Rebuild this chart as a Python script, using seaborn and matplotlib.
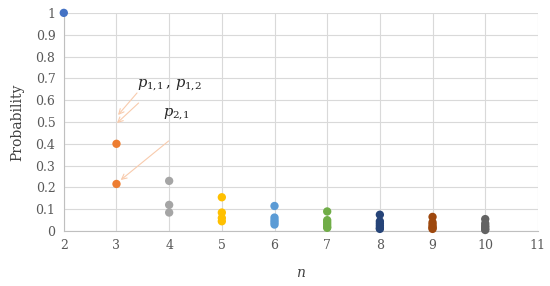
import matplotlib
matplotlib.use("Agg")
import matplotlib.pyplot as plt
import seaborn as sns
import pandas as pd

n_values = [2, 3, 4, 5, 6, 7, 8, 9, 10]
probs = {
    2: [1.0],
    3: [0.4, 0.216],
    4: [0.23, 0.12, 0.085],
    5: [0.155, 0.085, 0.06, 0.045],
    6: [0.115, 0.062, 0.05, 0.04, 0.03],
    7: [0.09, 0.05, 0.04, 0.03, 0.02, 0.015],
    8: [0.075, 0.045, 0.035, 0.025, 0.015, 0.01],
    9: [0.065, 0.04, 0.03, 0.02, 0.015, 0.01],
    10: [0.055, 0.035, 0.025, 0.018, 0.01, 0.005],
}
colors = ["#4472C4", "#ED7D31", "#A5A5A5", "#FFC000", "#5B9BD5",
          "#70AD47", "#264478", "#9E480E", "#636363"]
x_ticks = [2, 3, 4, 5, 6, 7, 8, 9, 10, 11]
y_ticks = [0, 0.1, 0.2, 0.3, 0.4, 0.5, 0.6, 0.7, 0.8, 0.9, 1]
y_tick_labels = ["0", "0.1", "0.2", "0.3", "0.4", "0.5", "0.6", "0.7", "0.8", "0.9", "1"]

rows = []
for n in n_values:
    for p in probs[n]:
        rows.append({"n": n, "p": p, "grp": str(n)})
df = pd.DataFrame(rows)

sns.set_style("white")
plt.rcParams["font.family"] = ["DejaVu Serif"]
plt.rcParams["mathtext.fontset"] = "dejavuserif"

fig = plt.figure(figsize=(5.5, 2.86), dpi=100)
ax = fig.add_axes([0.116, 0.192, 0.862, 0.763])
sns.scatterplot(data=df, x="n", y="p", hue="grp",
                palette=dict(zip([str(n) for n in n_values], colors)),
                s=36, edgecolor="none", legend=False, ax=ax, zorder=3, clip_on=False)

ax.set_xlim(2, 11)
ax.set_ylim(0, 1)
ax.set_xticks(x_ticks)
ax.set_yticks(y_ticks)
ax.set_yticklabels(y_tick_labels)
ax.grid(True, color="#D9D9D9", linewidth=0.8)
ax.set_axisbelow(True)
for side in ["top", "right"]:
    ax.spines[side].set_visible(False)
for side in ["left", "bottom"]:
    ax.spines[side].set_color("#BFBFBF")
    ax.spines[side].set_linewidth(0.8)
ax.tick_params(axis="both", length=0, labelsize=9, colors="#595959", pad=6)
ax.set_xlabel("n", fontsize=10, style="italic", color="#404040", labelpad=10)
ax.set_ylabel("Probability", fontsize=10, color="#404040", labelpad=8)

arrow_color = "#F8CBAD"
arrows = [((3.39, 0.633), (3.03, 0.532)),
          ((3.42, 0.587), (3.01, 0.495)),
          ((3.99, 0.413), (3.08, 0.234))]
for start, end in arrows:
    ax.annotate("", xy=end, xytext=start,
                arrowprops=dict(arrowstyle="->", color=arrow_color, lw=0.8,
                                mutation_scale=9, shrinkA=0, shrinkB=0))

ax.text(3.39, 0.66, r"$p_{1{,}1}\,,\,p_{1{,}2}$", fontsize=10.5, color="#262626")
ax.text(3.88, 0.525, r"$p_{2{,}1}$", fontsize=10.5, color="#262626")

fig.savefig("out.png", dpi=100)
